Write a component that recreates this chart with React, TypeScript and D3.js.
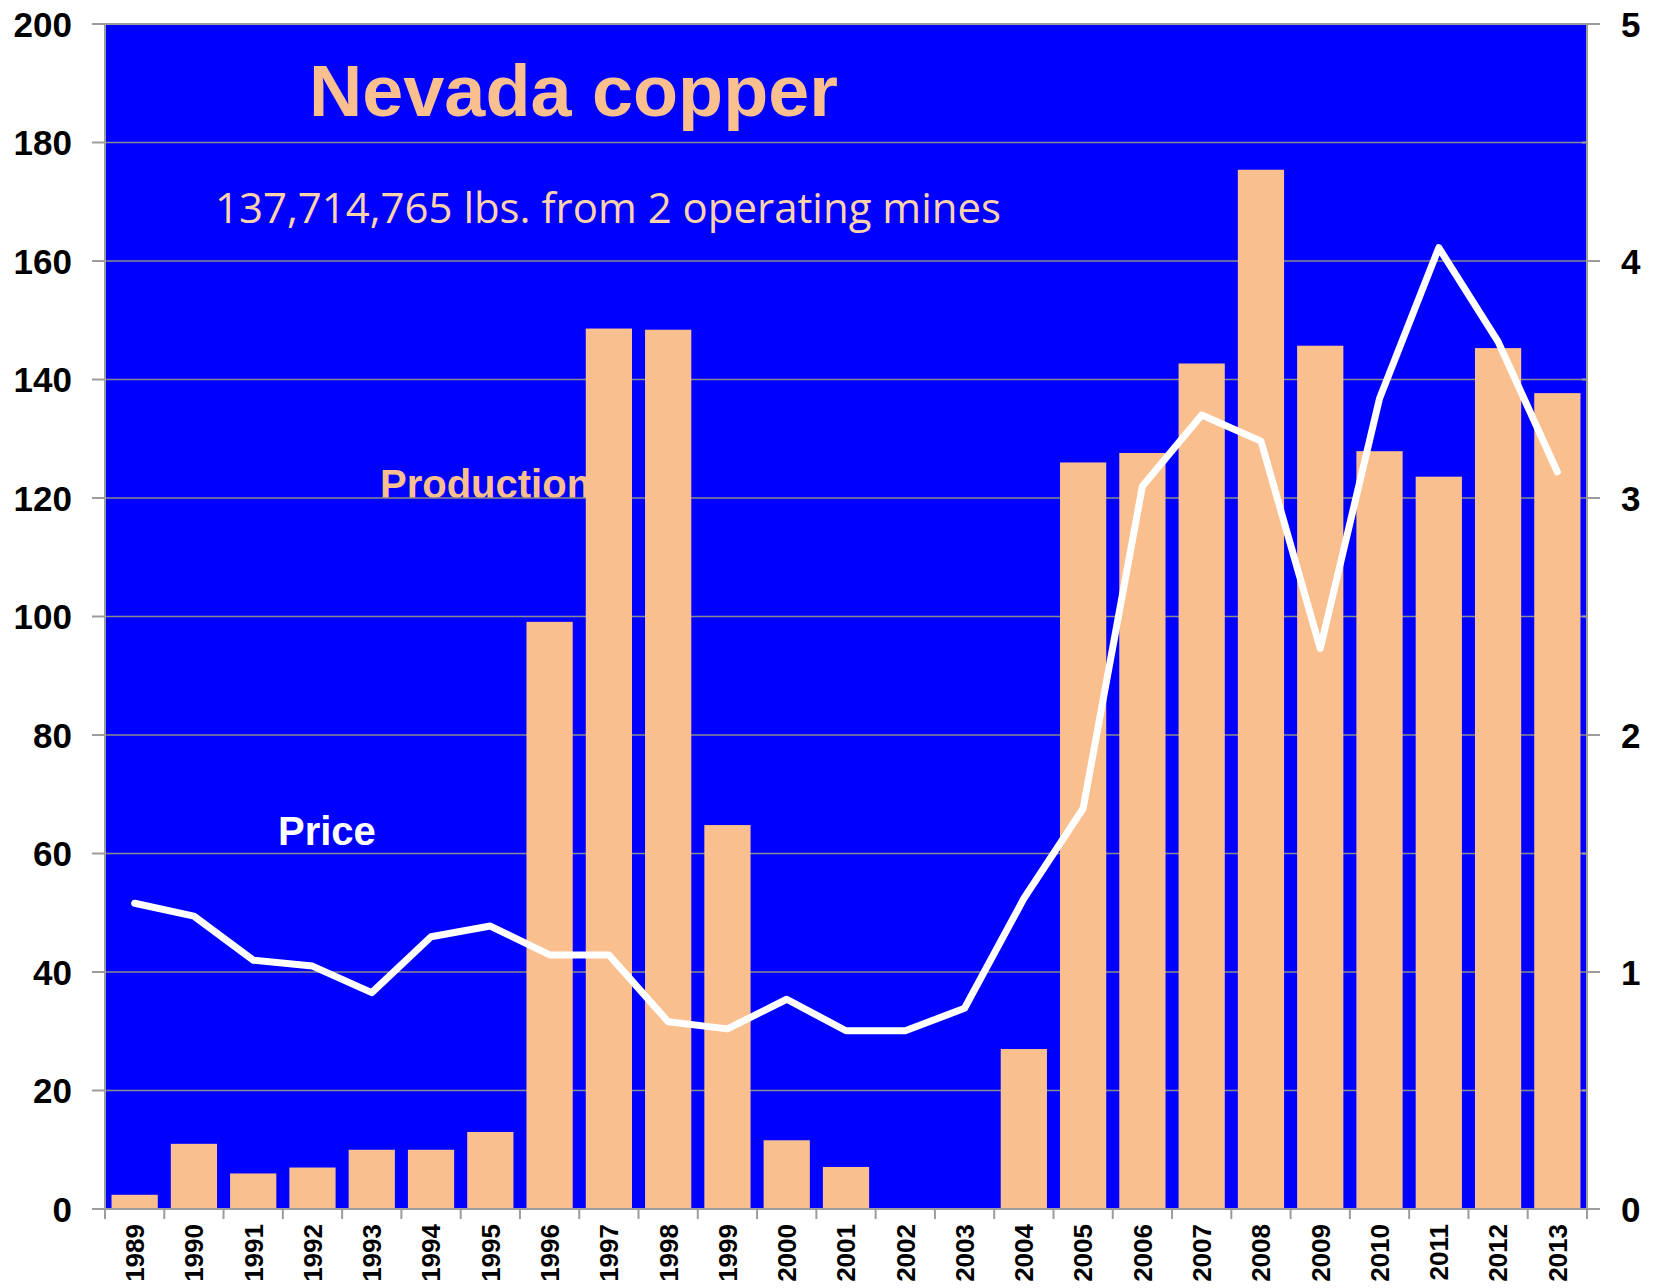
import React from "react";
import * as d3 from "d3";

const years = ["1989","1990","1991","1992","1993","1994","1995","1996","1997","1998","1999","2000","2001","2002","2003","2004","2005","2006","2007","2008","2009","2010","2011","2012","2013"];
const production = [2.4, 11.0, 6.0, 7.0, 10.0, 10.0, 13.0, 99.1, 148.6, 148.4, 64.8, 11.6, 7.1, 0, 0, 27.0, 126.0, 127.6, 142.7, 175.4, 145.7, 127.9, 123.6, 145.3, 137.7];
const price = [1.29, 1.236, 1.05, 1.025, 0.913, 1.149, 1.194, 1.072, 1.072, 0.79, 0.76, 0.885, 0.752, 0.752, 0.847, 1.31, 1.69, 3.05, 3.35, 3.24, 2.365, 3.42, 4.056, 3.66, 3.11];
const leftTicks = [0, 20, 40, 60, 80, 100, 120, 140, 160, 180, 200];
const rightTicks = [0, 1, 2, 3, 4, 5];
const rightMinor = [0.5, 1.5, 2.5, 3.5, 4.5];
const titleText = "Nevada copper";
const subtitleText = "137,714,765 lbs. from 2 operating mines";
const productionLabel = "Production";
const priceLabel = "Price";

const W = 1657, H = 1288;
const L = 105, R = 1587, T = 24, B = 1209;
const BAR = "#F9BF8F";
const GRID = "#8a8a8a";
const AXIS = "#9c9c9c";

export default function App() {
  const x = d3.scaleBand<string>().domain(years).range([L, R]).paddingInner(0.22).paddingOuter(0.11);
  const yL = d3.scaleLinear().domain([0, 200]).range([B, T]);
  const yR = d3.scaleLinear().domain([0, 5]).range([B, T]);
  const step = x.step();
  const bw = x.bandwidth();
  const line = d3.line<number>()
    .x((_, i) => (x(years[i]) as number) + bw / 2)
    .y((d) => yR(d));
  const boundaries = d3.range(years.length + 1).map((i) => L + i * step);
  const font = "'Liberation Sans', Arial, sans-serif";

  return (
    <svg width={W} height={H} style={{ position: "absolute", left: 0, top: 0, background: "#fff" }}>
      <rect x={L} y={T} width={R - L} height={B - T} fill="#0000FF" />
      <text x={380} y={498} fill={BAR} fontFamily={font} fontWeight="bold" fontSize={40}>{productionLabel}</text>
      {leftTicks.map((t) => (
        <line key={"g" + t} x1={L} x2={R} y1={yL(t)} y2={yL(t)} stroke={GRID} strokeWidth={1.6} />
      ))}
      {production.map((v, i) => (
        <rect key={years[i]} x={x(years[i])} y={yL(v)} width={bw} height={B - yL(v)} fill={BAR} />
      ))}
      <path d={line(price) || ""} fill="none" stroke="#fff" strokeWidth={7} strokeLinejoin="round" strokeLinecap="round" />
      <text x={278} y={845} fill="#fff" fontFamily={font} fontWeight="bold" fontSize={40}>{priceLabel}</text>
      <text x={309} y={116} fill={BAR} fontFamily={font} fontWeight="bold" fontSize={72} textLength={529} lengthAdjust="spacingAndGlyphs">{titleText}</text>
      <text x={215} y={223} fill="#FCD3AC" fontFamily="'Open Sans', 'Noto Sans', sans-serif" fontSize={42} textLength={786} lengthAdjust="spacingAndGlyphs">{subtitleText}</text>

      {/* axes */}
      <line x1={L} x2={L} y1={T} y2={B} stroke={AXIS} strokeWidth={2} />
      <line x1={R} x2={R} y1={T} y2={B} stroke={AXIS} strokeWidth={2} />
      <line x1={92} x2={1600} y1={B} y2={B} stroke={AXIS} strokeWidth={2} />
      <line x1={92} x2={1600} y1={T} y2={T} stroke={AXIS} strokeWidth={2} />
      {leftTicks.map((t) => (
        <g key={"l" + t}>
          <line x1={92} x2={L} y1={yL(t)} y2={yL(t)} stroke={AXIS} strokeWidth={2} />
          <text x={72} y={yL(t)} dy="0.36em" textAnchor="end" fontFamily={font} fontWeight="bold" fontSize={35} fill="#000">{t}</text>
        </g>
      ))}
      {rightTicks.map((t) => (
        <g key={"r" + t}>
          <line x1={R} x2={1600} y1={yR(t)} y2={yR(t)} stroke={AXIS} strokeWidth={2} />
          <text x={1621} y={yR(t)} dy="0.36em" textAnchor="start" fontFamily={font} fontWeight="bold" fontSize={35} fill="#000">{t}</text>
        </g>
      ))}
      {rightMinor.map((t) => (
        <line key={"m" + t} x1={R - 5} x2={R} y1={yR(t)} y2={yR(t)} stroke={AXIS} strokeWidth={2} />
      ))}
      {boundaries.map((bx, i) => (
        <line key={"b" + i} x1={bx} x2={bx} y1={B} y2={B + 10} stroke={AXIS} strokeWidth={2} />
      ))}
      {years.map((yr) => {
        const cx = (x(yr) as number) + bw / 2;
        return (
          <text key={"t" + yr} transform={`translate(${cx},${1224}) rotate(-90)`} dy="0.36em" textAnchor="end" fontFamily={font} fontWeight="bold" fontSize={26} fill="#000">{yr}</text>
        );
      })}
    </svg>
  );
}
